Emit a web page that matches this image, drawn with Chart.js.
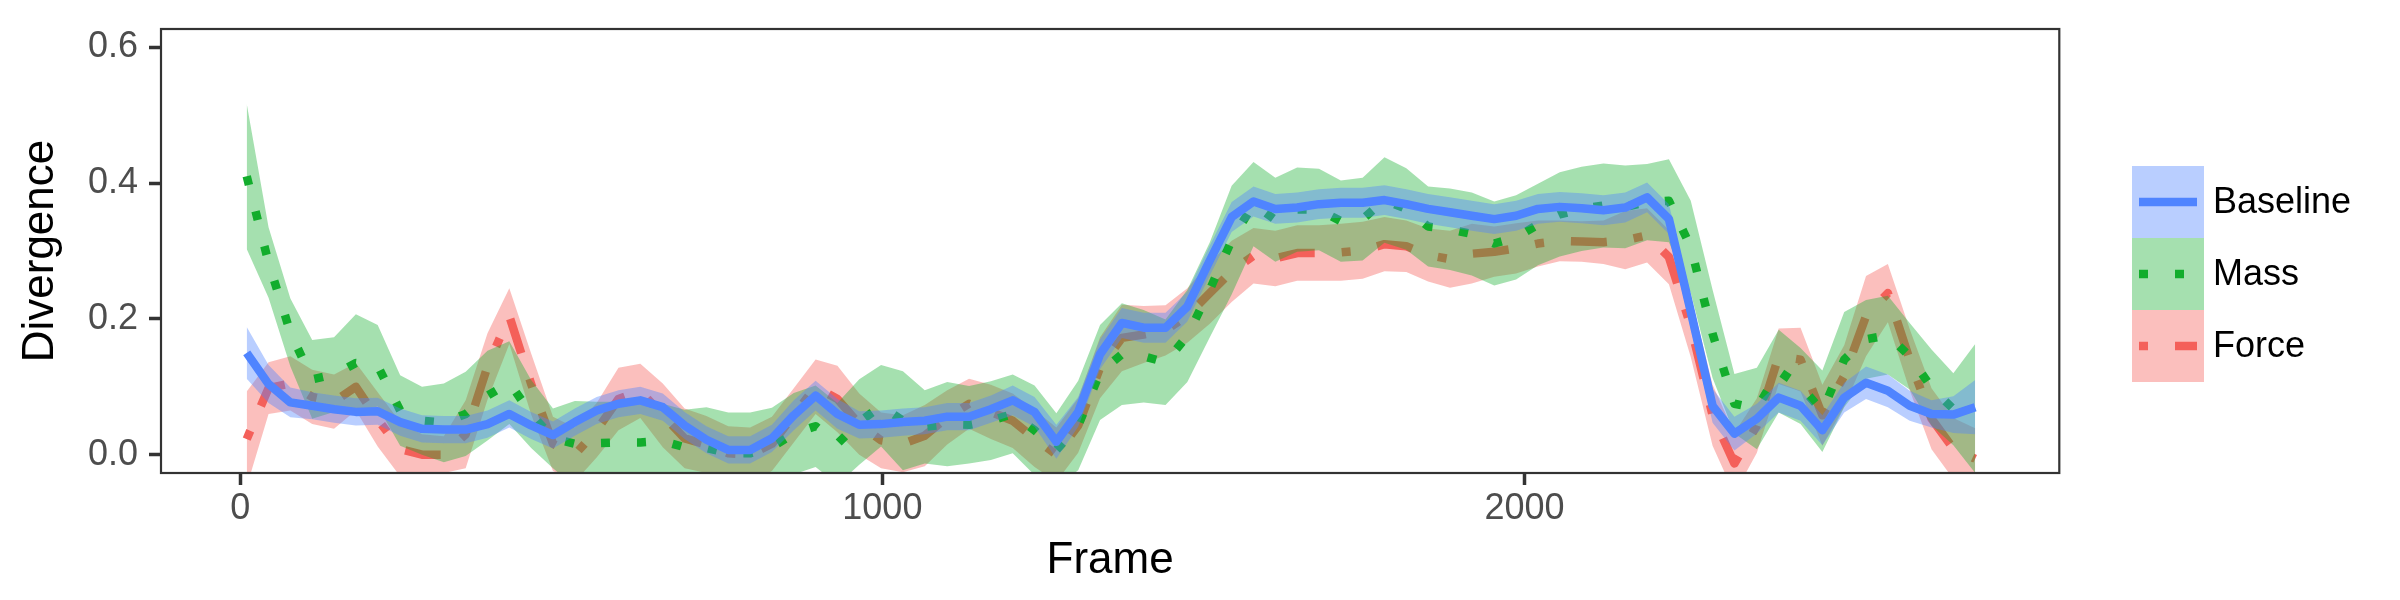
<!DOCTYPE html>
<html>
<head>
<meta charset="utf-8">
<title>Divergence</title>
<script src="https://cdn.jsdelivr.net/npm/chart.js@4.4.1/dist/chart.umd.min.js"></script>
<style>
    html, body { margin: 0; padding: 0; background: #ffffff; }
    #contenedor { width: 2400px; height: 600px; }
</style>
</head>
<body>
<div id="contenedor"><canvas id="grafica" width="2400" height="600"></canvas></div>
<script>
// datos
const frames = [10, 44, 78, 112, 146, 180, 214, 249, 283, 317,
    351, 385, 419, 453, 487, 521, 555, 589, 623, 658,
    692, 726, 760, 794, 828, 862, 896, 930, 964, 998,
    1032, 1066, 1101, 1135, 1169, 1203, 1237, 1271, 1305, 1339,
    1373, 1407, 1441, 1475, 1510, 1544, 1578, 1612, 1646, 1680,
    1714, 1748, 1782, 1816, 1850, 1884, 1918, 1953, 1987, 2021,
    2055, 2089, 2123, 2157, 2191, 2225, 2259, 2293, 2327, 2362,
    2396, 2430, 2464, 2498, 2532, 2566, 2600, 2634, 2668, 2702];

const baseline = [0.150, 0.104, 0.077, 0.072, 0.067, 0.063, 0.064, 0.048, 0.038, 0.037,
    0.037, 0.045, 0.060, 0.043, 0.029, 0.048, 0.065, 0.075, 0.080, 0.070,
    0.043, 0.022, 0.007, 0.007, 0.024, 0.058, 0.087, 0.060, 0.044, 0.045,
    0.048, 0.050, 0.056, 0.056, 0.067, 0.080, 0.063, 0.019, 0.063, 0.148,
    0.194, 0.187, 0.187, 0.218, 0.286, 0.350, 0.373, 0.362, 0.364, 0.369,
    0.371, 0.371, 0.375, 0.369, 0.362, 0.357, 0.352, 0.347, 0.352, 0.362,
    0.365, 0.363, 0.360, 0.364, 0.379, 0.347, 0.211, 0.072, 0.031, 0.053,
    0.084, 0.072, 0.036, 0.084, 0.106, 0.094, 0.072, 0.060, 0.059, 0.070];
const baselineSe = [0.038, 0.028, 0.022, 0.02, 0.02, 0.02, 0.02, 0.02, 0.02, 0.02,
    0.02, 0.02, 0.02, 0.02, 0.02, 0.02, 0.02, 0.02, 0.02, 0.02,
    0.02, 0.02, 0.02, 0.02, 0.02, 0.022, 0.022, 0.022, 0.02, 0.02,
    0.02, 0.02, 0.02, 0.02, 0.02, 0.022, 0.022, 0.025, 0.022, 0.022,
    0.022, 0.022, 0.022, 0.022, 0.022, 0.022, 0.022, 0.022, 0.022, 0.022,
    0.022, 0.022, 0.022, 0.022, 0.022, 0.022, 0.022, 0.022, 0.022, 0.022,
    0.022, 0.022, 0.022, 0.022, 0.022, 0.022, 0.025, 0.025, 0.025, 0.022,
    0.022, 0.022, 0.022, 0.022, 0.024, 0.024, 0.022, 0.02, 0.027, 0.04];

const mass = [0.410, 0.283, 0.180, 0.111, 0.118, 0.135, 0.131, 0.065, 0.050, 0.047,
    0.060, 0.087, 0.106, 0.060, 0.024, 0.016, 0.017, 0.018, 0.018, 0.020,
    0.011, 0.010, 0.002, 0.002, 0.011, 0.031, 0.042, 0.016, 0.048, 0.072,
    0.050, 0.041, 0.045, 0.044, 0.050, 0.060, 0.036, 0.007, 0.043, 0.121,
    0.148, 0.145, 0.136, 0.175, 0.243, 0.316, 0.369, 0.346, 0.361, 0.361,
    0.344, 0.347, 0.375, 0.362, 0.336, 0.332, 0.325, 0.311, 0.320, 0.339,
    0.354, 0.362, 0.367, 0.365, 0.372, 0.374, 0.306, 0.178, 0.075, 0.068,
    0.123, 0.101, 0.064, 0.140, 0.170, 0.176, 0.145, 0.099, 0.067, 0.068];
const massSe = [0.107, 0.052, 0.05, 0.058, 0.055, 0.072, 0.06, 0.052, 0.05, 0.058,
    0.062, 0.066, 0.061, 0.05, 0.044, 0.063, 0.061, 0.06, 0.057, 0.055,
    0.055, 0.06, 0.06, 0.06, 0.058, 0.06, 0.06, 0.06, 0.063, 0.06,
    0.073, 0.054, 0.062, 0.057, 0.058, 0.058, 0.066, 0.054, 0.066, 0.07,
    0.075, 0.068, 0.063, 0.068, 0.07, 0.08, 0.062, 0.062, 0.062, 0.06,
    0.06, 0.061, 0.063, 0.06, 0.059, 0.06, 0.061, 0.062, 0.062, 0.06,
    0.062, 0.062, 0.062, 0.061, 0.056, 0.061, 0.068, 0.065, 0.044, 0.06,
    0.061, 0.056, 0.06, 0.07, 0.058, 0.058, 0.049, 0.056, 0.053, 0.095];

const force = [0.023, 0.098, 0.105, 0.085, 0.078, 0.100, 0.052, 0.008, 0.000, 0.000,
    0.030, 0.130, 0.204, 0.104, 0.016, 0.000, 0.036, 0.082, 0.094, 0.058,
    0.024, 0.015, 0.002, 0.000, 0.016, 0.058, 0.100, 0.082, 0.045, 0.021,
    0.016, 0.028, 0.055, 0.075, 0.063, 0.050, 0.024, 0.000, 0.043, 0.128,
    0.172, 0.177, 0.183, 0.205, 0.238, 0.270, 0.293, 0.289, 0.297, 0.297,
    0.298, 0.301, 0.310, 0.307, 0.294, 0.288, 0.296, 0.299, 0.304, 0.311,
    0.315, 0.314, 0.313, 0.316, 0.323, 0.291, 0.189, 0.058, -0.013, 0.043,
    0.145, 0.140, 0.058, 0.116, 0.204, 0.238, 0.140, 0.053, 0.009, -0.006];
const forceSe = [0.07, 0.038, 0.04, 0.04, 0.04, 0.035, 0.04, 0.04, 0.03, 0.027,
    0.05, 0.049, 0.041, 0.045, 0.04, 0.04, 0.04, 0.046, 0.04, 0.047,
    0.044, 0.042, 0.04, 0.04, 0.04, 0.04, 0.04, 0.049, 0.045, 0.041,
    0.042, 0.045, 0.04, 0.037, 0.04, 0.04, 0.042, 0.04, 0.04, 0.045,
    0.049, 0.042, 0.037, 0.04, 0.045, 0.045, 0.041, 0.041, 0.041, 0.041,
    0.042, 0.042, 0.04, 0.038, 0.039, 0.042, 0.044, 0.037, 0.037, 0.034,
    0.03, 0.03, 0.032, 0.043, 0.04, 0.04, 0.045, 0.045, 0.045, 0.04,
    0.041, 0.047, 0.045, 0.045, 0.059, 0.043, 0.045, 0.045, 0.045, 0.045];

const xTicks = [0, 1000, 2000];
const yTicks = [0, 0.2, 0.4, 0.6];
const legendOrder = ['Baseline', 'Mass', 'Force'];

(function() {
    const canvas = document.querySelector('#grafica');
    const fuente = '"Liberation Sans", Arial, sans-serif';

    // estilo de cada serie (Force se dibuja primero, Baseline encima)
    const series = [
        { nombre: 'Force', media: force, error: forceSe, color: '#f4605a', relleno: 'rgba(244, 96, 90, 0.4)', trazo: [9, 27, 36, 27] },
        { nombre: 'Mass', media: mass, error: massSe, color: '#12ad2c', relleno: 'rgba(18, 173, 44, 0.38)', trazo: [9, 27] },
        { nombre: 'Baseline', media: baseline, error: baselineSe, color: '#4f84ff', relleno: 'rgba(79, 132, 255, 0.4)', trazo: [] }
    ];

    const puntos = (valores, errores, signo) => frames.map((f, i) => ({ x: f, y: valores[i] + signo * errores[i] }));

    const datasets = [];
    let orden = 100;
    series.forEach(s => {
        const inicio = datasets.length;
        datasets.push({
            label: s.nombre + ' min', data: puntos(s.media, s.error, -1),
            borderColor: 'rgba(0,0,0,0)', borderWidth: 1, pointRadius: 0, fill: false, order: orden--
        });
        datasets.push({
            label: s.nombre + ' max', data: puntos(s.media, s.error, 1),
            borderColor: 'rgba(0,0,0,0)', borderWidth: 1, backgroundColor: s.relleno,
            pointRadius: 0, fill: inicio, order: orden--
        });
        datasets.push({
            label: s.nombre, data: puntos(s.media, s.error, 0),
            borderColor: s.color, borderWidth: 8.5, borderDash: s.trazo,
            borderCapStyle: 'butt', borderJoinStyle: 'round',
            pointRadius: 0, fill: false, order: orden--
        });
    });

    const marco = {
        id: 'marco',
        afterDatasetsDraw(chart) {
            const { ctx, chartArea } = chart;
            ctx.save();
            ctx.strokeStyle = '#333333';
            ctx.lineWidth = 2.2;
            ctx.strokeRect(chartArea.left, chartArea.top, chartArea.right - chartArea.left, chartArea.bottom - chartArea.top);
            ctx.restore();
        }
    };

    const leyenda = {
        id: 'leyenda',
        afterDraw(chart) {
            const c = chart.ctx;
            legendOrder.forEach((nombre, i) => {
                const s = series.find(x => x.nombre === nombre);
                const y0 = 166 + i * 72;
                c.save();
                c.fillStyle = s.relleno;
                c.fillRect(2132, y0, 72, 72);
                c.beginPath();
                c.rect(2132, y0, 72, 72);
                c.clip();
                c.strokeStyle = s.color;
                c.lineWidth = 8.5;
                c.lineCap = 'butt';
                c.setLineDash(s.trazo);
                c.beginPath();
                c.moveTo(2139, y0 + 36);
                c.lineTo(2197, y0 + 36);
                c.stroke();
                c.restore();
                c.save();
                c.fillStyle = '#000000';
                c.font = '36px ' + fuente;
                c.textAlign = 'left';
                c.textBaseline = 'middle';
                c.fillText(nombre, 2213, y0 + 37);
                c.restore();
            });
        }
    };

    const ejes = {
        grid: { display: true, drawOnChartArea: false, drawTicks: true, tickLength: 12, tickWidth: 3.5, tickColor: '#333333' },
        border: { display: false }
    };

    new Chart(canvas, {
        type: 'line',
        data: { datasets: datasets },
        options: {
            responsive: false,
            devicePixelRatio: 1,
            animation: false,
            layout: { padding: { left: 0, top: 24, right: 340.7, bottom: 0 } },
            plugins: {
                legend: { display: false },
                tooltip: { enabled: false },
                filler: { propagate: false }
            },
            scales: {
                x: {
                    type: 'linear',
                    min: -123.5,
                    max: 2833,
                    ...ejes,
                    afterBuildTicks: scale => { scale.ticks = xTicks.map(v => ({ value: v })); },
                    afterFit: scale => { scale.height = 127; },
                    ticks: {
                        padding: 6,
                        color: '#4d4d4d',
                        font: { family: fuente, size: 36, lineHeight: 1 },
                        maxRotation: 0,
                        callback: v => String(v)
                    },
                    title: {
                        display: true,
                        text: 'Frame',
                        color: '#000000',
                        font: { family: fuente, size: 44, lineHeight: 1.2 },
                        padding: { top: 0, bottom: 12.8 }
                    }
                },
                y: {
                    type: 'linear',
                    min: -0.027,
                    max: 0.627,
                    ...ejes,
                    afterBuildTicks: scale => { scale.ticks = yTicks.map(v => ({ value: v })); },
                    afterFit: scale => { scale.width = 161; },
                    ticks: {
                        padding: 11,
                        color: '#4d4d4d',
                        font: { family: fuente, size: 36, lineHeight: 1 },
                        callback: v => Number(v).toFixed(1)
                    },
                    title: {
                        display: true,
                        text: 'Divergence',
                        color: '#000000',
                        font: { family: fuente, size: 44, lineHeight: 1.2 },
                        padding: { top: 14.4, bottom: 0 }
                    }
                }
            }
        },
        plugins: [marco, leyenda]
    });
})();
</script>
</body>
</html>
